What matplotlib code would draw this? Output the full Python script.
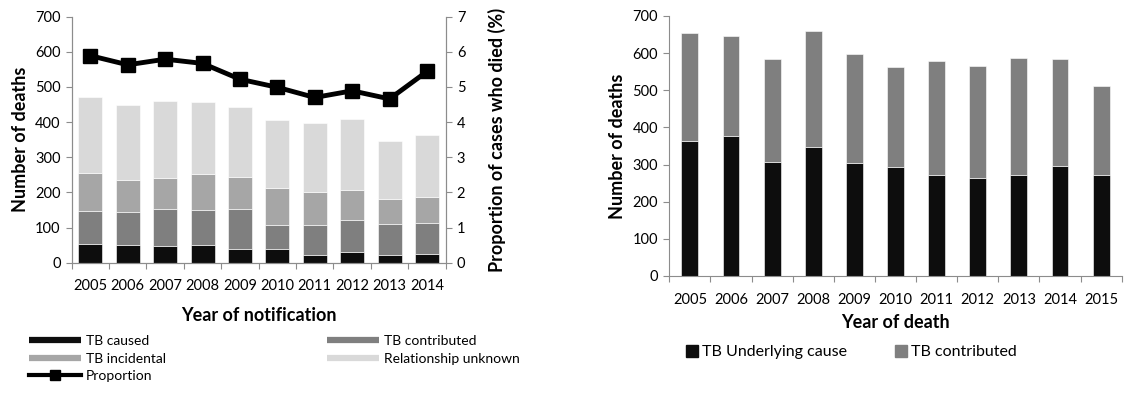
import matplotlib
matplotlib.use("Agg")
import matplotlib.pyplot as plt
from matplotlib.lines import Line2D
import numpy as np

plt.rcParams['font.family'] = ['Lato', 'DejaVu Sans']

# Deaths by year of notification, split by relationship of TB to death
notif_years = ['2005', '2006', '2007', '2008', '2009', '2010', '2011', '2012', '2013', '2014']
tb_caused = [53, 50, 47, 49, 39, 38, 23, 30, 23, 25]
tb_contributed = [95, 95, 107, 102, 115, 69, 84, 91, 87, 89]
tb_incidental = [107, 90, 87, 102, 90, 106, 94, 87, 71, 73]
rel_unknown = [215, 213, 219, 205, 199, 193, 197, 201, 165, 176]
proportion = [5.89, 5.63, 5.79, 5.67, 5.22, 4.99, 4.70, 4.89, 4.66, 5.44]

# Deaths by year of death
death_years = ['2005', '2006', '2007', '2008', '2009', '2010', '2011', '2012', '2013', '2014', '2015']
underlying = [364, 378, 307, 348, 304, 294, 273, 264, 273, 296, 271]
contributed = [289, 268, 278, 311, 293, 270, 305, 301, 313, 287, 240]

C_BLACK = '#0d0d0d'
C_DARK = '#7f7f7f'
C_MID = '#a6a6a6'
C_LIGHT = '#d9d9d9'
SPINE = '#8c8c8c'
LABEL_FS = 13

fig = plt.figure(figsize=(11.32, 3.94), dpi=100)


def style_axis(ax, n, right=False):
    ax.set_xlim(-0.5, n - 0.5)
    ax.set_xticks(np.arange(-0.5, n, 1.0))
    ax.set_xticklabels([])
    ax.tick_params(axis='x', which='major', direction='out', length=4, color=SPINE)
    ax.tick_params(axis='x', which='minor', length=0, labelsize=10.5, pad=12)
    ax.tick_params(axis='y', direction='out', length=4, color=SPINE, labelsize=10.5, pad=4)
    ax.spines['top'].set_visible(False)
    if not right:
        ax.spines['right'].set_visible(False)
    for s in ax.spines.values():
        s.set_color(SPINE)


# ---- Left panel ----
ax1 = fig.add_axes([0.0633, 0.3333, 0.3304, 0.6244])
x1 = np.arange(len(notif_years))
w1 = 0.64
b = np.zeros(len(x1))
for vals, col in [(tb_caused, C_BLACK), (tb_contributed, C_DARK),
                  (tb_incidental, C_MID), (rel_unknown, C_LIGHT)]:
    ax1.bar(x1, vals, w1, bottom=b, color=col, edgecolor='white', linewidth=0.4)
    b += np.array(vals)
style_axis(ax1, len(notif_years), right=True)
ax1.set_ylim(0, 700)
ax1.set_yticks(range(0, 701, 100))
ax1.set_xticks(x1, minor=True)
ax1.set_xticklabels(notif_years, minor=True)
ax1.set_ylabel('Number of deaths', fontsize=LABEL_FS, fontweight='bold', labelpad=4)
ax1.set_xlabel('Year of notification', fontsize=LABEL_FS, fontweight='bold', labelpad=10)

ax1r = ax1.twinx()
ax1r.plot(x1, proportion, color='black', linewidth=3.5, marker='s', markersize=10)
ax1r.set_ylim(0, 7)
ax1r.set_yticks(range(0, 8))
ax1r.tick_params(axis='y', direction='out', length=4, color=SPINE, labelsize=10.5, pad=4)
ax1r.spines['top'].set_visible(False)
for s in ax1r.spines.values():
    s.set_color(SPINE)
ax1r.set_ylabel('Proportion of cases who died (%)', fontsize=LABEL_FS, fontweight='bold',
                labelpad=16)

sw = dict(linewidth=4.5, solid_capstyle='butt')
h_caused = Line2D([], [], color=C_BLACK, **sw)
h_contr = Line2D([], [], color=C_DARK, **sw)
h_incid = Line2D([], [], color=C_MID, **sw)
h_unk = Line2D([], [], color=C_LIGHT, **sw)
h_prop = Line2D([], [], color='black', linewidth=3, marker='s', markersize=7)

leg_kw = dict(frameon=False, fontsize=10, handlelength=3.75, handletextpad=0.35,
              labelspacing=0.4, borderpad=0, borderaxespad=0, loc='upper left')
leg1 = fig.legend([h_caused, h_incid, h_prop], ['TB caused', 'TB incidental', 'Proportion'],
                  bbox_to_anchor=(29 / 1132, 1 - 335 / 394), **leg_kw)
leg2 = fig.legend([h_contr, h_unk], ['TB contributed', 'Relationship unknown'],
                  bbox_to_anchor=(327 / 1132, 1 - 335 / 394), **leg_kw)

# ---- Right panel ----
ax2 = fig.add_axes([0.5913, 0.2995, 0.3996, 0.6599])
x2 = np.arange(len(death_years))
w2 = 0.41
ax2.bar(x2, underlying, w2, color=C_BLACK, edgecolor='white', linewidth=0.4)
ax2.bar(x2, contributed, w2, bottom=underlying, color=C_DARK, edgecolor='white', linewidth=0.4)
style_axis(ax2, len(death_years))
ax2.set_ylim(0, 700)
ax2.set_yticks(range(0, 701, 100))
ax2.set_xticks(x2, minor=True)
ax2.set_xticklabels(death_years, minor=True)
ax2.set_ylabel('Number of deaths', fontsize=LABEL_FS, fontweight='bold', labelpad=5)
ax2.set_xlabel('Year of death', fontsize=LABEL_FS, fontweight='bold', labelpad=5)

sq = dict(marker='s', linestyle='none', markersize=9)
fig.legend([Line2D([], [], color=C_BLACK, **sq), Line2D([], [], color=C_DARK, **sq)],
           ['TB Underlying cause', 'TB contributed'], ncol=2, frameon=False, fontsize=11.5,
           handlelength=0.8, handletextpad=0.2, columnspacing=3.0, borderpad=0,
           borderaxespad=0, loc='upper left', bbox_to_anchor=(686 / 1132, 1 - 345 / 394))

fig.savefig('out.png', dpi=100)
